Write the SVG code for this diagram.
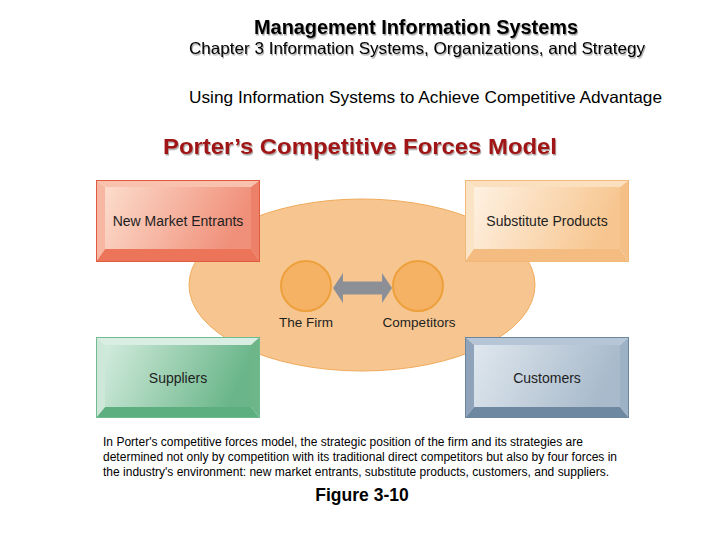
<svg xmlns="http://www.w3.org/2000/svg" width="720" height="540" viewBox="0 0 720 540">
<style>
text{font-family:"Liberation Sans",Arial,sans-serif}
.lbl{font-size:14px;fill:#1e1e1e;text-anchor:middle}
.sub{font-size:13.5px;fill:#1e1e1e;text-anchor:middle}
.cap{font-size:12px;fill:#000}
.brd{fill:none;stroke-width:1}
</style>
<defs>
<filter id="sh" x="-5%" y="-20%" width="110%" height="160%">
<feDropShadow dx="1" dy="1.5" stdDeviation="0.6" flood-color="#000" flood-opacity="0.35"/>
</filter>
<linearGradient id="gN" x1="0" x2="1" y1="0" y2="0.2"><stop offset="0" stop-color="#fcdccc"/><stop offset="1" stop-color="#f0907a"/></linearGradient>
<linearGradient id="gS" x1="0" x2="1" y1="0" y2="0.2"><stop offset="0" stop-color="#fef1e2"/><stop offset="1" stop-color="#f7c690"/></linearGradient>
<linearGradient id="gU" x1="0" x2="1" y1="0" y2="0.2"><stop offset="0" stop-color="#d2ebdc"/><stop offset="1" stop-color="#6ab68a"/></linearGradient>
<linearGradient id="gC" x1="0" x2="1" y1="0" y2="0.2"><stop offset="0" stop-color="#dfe7ee"/><stop offset="1" stop-color="#a8bacb"/></linearGradient>
</defs>

<g id="header">
<text x="416" y="34" font-size="20" font-weight="bold" text-anchor="middle" fill="#000" filter="url(#sh)" textLength="324" lengthAdjust="spacingAndGlyphs">Management Information Systems</text>
<text x="189" y="54" font-size="16.5" fill="#000" filter="url(#sh)" textLength="456" lengthAdjust="spacingAndGlyphs">Chapter 3 Information Systems, Organizations, and Strategy</text>
<text x="189" y="103" font-size="16.5" fill="#000" textLength="473" lengthAdjust="spacingAndGlyphs">Using Information Systems to Achieve Competitive Advantage</text>
<text x="163" y="154" font-size="21.5" font-weight="bold" fill="#a01818" filter="url(#sh)" textLength="394" lengthAdjust="spacingAndGlyphs">Porter’s Competitive Forces Model</text>
</g>

<g id="industry">
<ellipse cx="362" cy="285" rx="173" ry="86" fill="#f7c690" stroke="#f0aa5a" stroke-width="1"/>
</g>

<g id="connectors">
<polygon points="333,288 343,273 343,281.5 382,281.5 382,273 392,288 382,303 382,294.5 343,294.5 343,303" fill="#8c8f96"/>
</g>

<g id="the-firm">
<circle cx="306" cy="286" r="25" fill="#f5b264" stroke="#eda03c" stroke-width="2"/>
<text class="sub" x="306" y="327">The Firm</text>
</g>
<g id="competitors">
<circle cx="418" cy="286" r="25" fill="#f5b264" stroke="#eda03c" stroke-width="2"/>
<text class="sub" x="419" y="327">Competitors</text>
</g>

<g id="new-market-entrants" transform="translate(96,180)">
<polygon points="0,0 164,0 155,7 9,7" fill="#f8c2ae"/>
<polygon points="0,0 9,7 9,69 0,82" fill="#f7b7a2"/>
<polygon points="164,0 164,82 155,69 155,7" fill="#ec8068"/>
<polygon points="0,82 9,69 155,69 164,82" fill="#ec7458"/>
<rect x="9" y="7" width="146" height="62" fill="url(#gN)"/>
<rect class="brd" x="0.5" y="0.5" width="163" height="81" stroke="#e05a40"/>
<text class="lbl" x="82" y="46">New Market Entrants</text>
</g>

<g id="substitute-products" transform="translate(465,180)">
<polygon points="0,0 164,0 155,7 9,7" fill="#fbe0c0"/>
<polygon points="0,0 9,7 9,69 0,82" fill="#fbe3c6"/>
<polygon points="164,0 164,82 155,69 155,7" fill="#f5c088"/>
<polygon points="0,82 9,69 155,69 164,82" fill="#f4bc80"/>
<rect x="9" y="7" width="146" height="62" fill="url(#gS)"/>
<rect class="brd" x="0.5" y="0.5" width="163" height="81" stroke="#f2b878"/>
<text class="lbl" x="82" y="46">Substitute Products</text>
</g>

<g id="suppliers" transform="translate(96,337)">
<polygon points="0,0 164,0 155,8 9,8" fill="#d8eee2"/>
<polygon points="0,0 9,8 9,70 0,81" fill="#cde7d8"/>
<polygon points="164,0 164,81 155,70 155,8" fill="#6cb68a"/>
<polygon points="0,81 9,70 155,70 164,81" fill="#5eaf80"/>
<rect x="9" y="8" width="146" height="62" fill="url(#gU)"/>
<rect class="brd" x="0.5" y="0.5" width="163" height="80" stroke="#70bb90"/>
<text class="lbl" x="82" y="46">Suppliers</text>
</g>

<g id="customers" transform="translate(465,337)">
<polygon points="0,0 164,0 155,8 9,8" fill="#b6c6d6"/>
<polygon points="0,0 9,8 9,70 0,81" fill="#8fa4ba"/>
<polygon points="164,0 164,81 155,70 155,8" fill="#9eb2c5"/>
<polygon points="0,81 9,70 155,70 164,81" fill="#6e88a2"/>
<rect x="9" y="8" width="146" height="62" fill="url(#gC)"/>
<rect class="brd" x="0.5" y="0.5" width="163" height="80" stroke="#6c86a0"/>
<text class="lbl" x="82" y="46">Customers</text>
</g>

<g id="caption">
<text class="cap" x="103" y="446" textLength="480" lengthAdjust="spacing">In Porter's competitive forces model, the strategic position of the firm and its strategies are</text>
<text class="cap" x="103" y="461" textLength="514" lengthAdjust="spacing">determined not only by competition with its traditional direct competitors but also by four forces in</text>
<text class="cap" x="103" y="476" textLength="506" lengthAdjust="spacing">the industry's environment: new market entrants, substitute products, customers, and suppliers.</text>
<text x="362" y="501" font-size="17.5" font-weight="bold" text-anchor="middle" fill="#000">Figure 3-10</text>
</g>
</svg>
